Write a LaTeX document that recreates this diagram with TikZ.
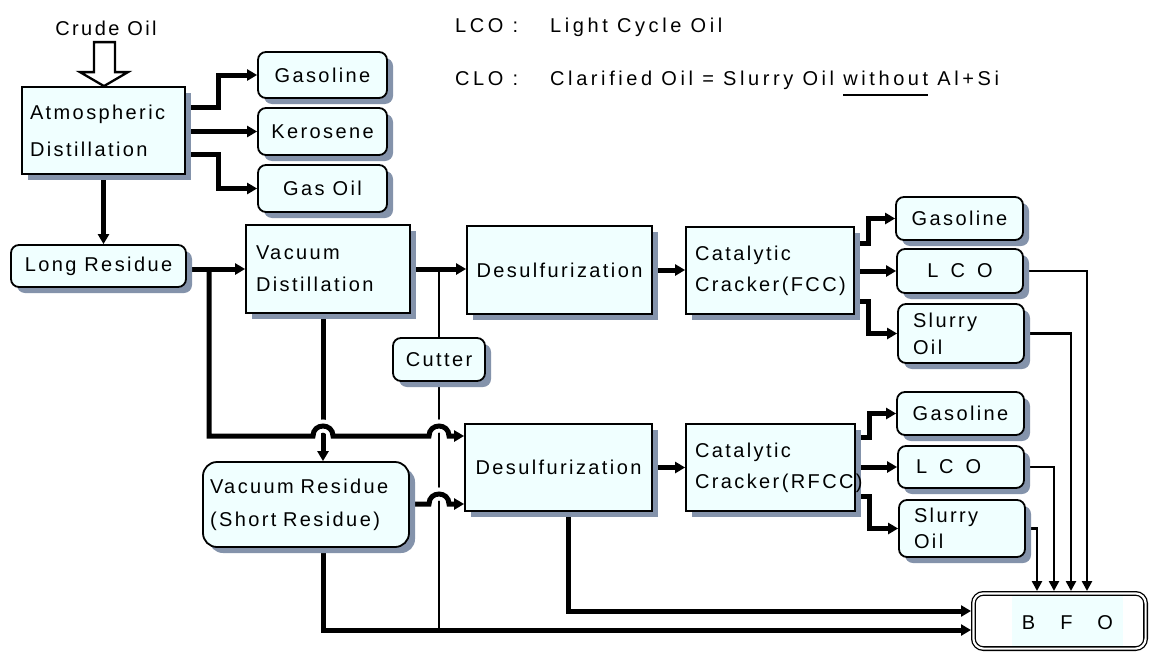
\documentclass[tikz,border=0pt]{standalone}
\usepackage{fontspec}
\setmainfont{Liberation Sans}[LetterSpace=12]
\usetikzlibrary{arrows.meta,shadows,calc,backgrounds}
\definecolor{boxfill}{RGB}{240,255,255}
\definecolor{shadowc}{RGB}{132,147,171}
\pgfdeclarelayer{bottom}
\pgfsetlayers{bottom,background,main}
\newcommand\myul[1]{\vtop{\hbox{#1}\kern9pt\hrule height 1.7pt}}
\hyphenpenalty=10000
\exhyphenpenalty=10000
\begin{document}
\begin{tikzpicture}[x=1pt,y=-1pt,
  base/.style={draw=black, line width=1.8pt, fill=boxfill, inner sep=0pt,
    font=\fontsize{20}{24}\selectfont,
    drop shadow={shadow xshift=6pt, shadow yshift=-6pt, fill=shadowc, opacity=1}},
  sqbox/.style={base, rectangle},
  rbox/.style={base, rectangle, rounded corners=8pt},
  txt/.style={inner sep=0pt, font=\fontsize{20}{24}\selectfont},
  legend/.style={inner sep=0pt, anchor=base west, font=\fontsize{20}{24}\selectfont\addfontfeature{LetterSpace=18}},
  thick/.style={line width=5pt, -{Triangle[length=10pt,width=11pt]}},
  thickline/.style={line width=5pt},
  thin/.style={line width=2.8pt, -{Triangle[length=10pt,width=10pt]}},
  thinline/.style={line width=2.8pt},
  halo/.style={preaction={draw=white, line width=13pt, -}}
]
\begin{pgfonlayer}{bottom}
\fill[white] (0,0) rectangle (1151,653);
\end{pgfonlayer}
\useasboundingbox (0,0) rectangle (1151,653);

% legend
\node[legend] (lcok) at (455,32) {LCO :};
\node[legend] (lcod) at (550,32) {Light Cycle Oil};
\node[legend] (clok) at (455,85) {CLO :};
\node[legend] (clod) at (550,85) {Clarified Oil = Slurry Oil \myul{without} Al+Si};

% nodes
\node[txt, anchor=base] (crude) at (106,35) {Crude Oil};
\node[sqbox, minimum width=163pt, minimum height=87pt, text width=147pt, align=left,
  font=\fontsize{20}{37}\selectfont] (atm) at (103.5,130.5) {Atmospheric\\Distillation};
\node[rbox, minimum width=129pt, minimum height=46pt] (gas1) at (322.5,75) {Gasoline};
\node[rbox, minimum width=129pt, minimum height=47pt] (ker) at (322.5,131.5) {Kerosene};
\node[rbox, minimum width=129pt, minimum height=47pt] (gasoil) at (322.5,188.5) {Gas Oil};
\node[rbox, minimum width=175pt, minimum height=42pt] (longres) at (98.5,266) {Long Residue};
\node[sqbox, minimum width=164pt, minimum height=88pt, text width=144pt, align=left,
  font=\fontsize{20}{32}\selectfont] (vacdist) at (328,269) {Vacuum\\Distillation};
\node[sqbox, minimum width=185pt, minimum height=88pt] (desulf1) at (559.5,270) {Desulfurization};
\node[sqbox, minimum width=168pt, minimum height=87pt, text width=150pt, align=left,
  font=\fontsize{20}{31}\selectfont] (cat1) at (770,270.5) {Catalytic\\Cracker(FCC)};
\node[rbox, minimum width=92pt, minimum height=43pt] (cutter) at (439,359.5) {Cutter};
\node[rbox, minimum width=127pt, minimum height=43pt] (gasF) at (959.5,218.5) {Gasoline};
\node[rbox, minimum width=126pt, minimum height=44pt] (lco1) at (960,271) {L\hspace{12pt}C\hspace{12pt}O};
\node[rbox, minimum width=126pt, minimum height=59pt, text width=96pt, align=left,
  font=\fontsize{20}{27}\selectfont] (slurry1) at (961,333.5) {Slurry\\Oil};
\node[sqbox, minimum width=187pt, minimum height=87pt] (desulf2) at (558.5,467.5) {Desulfurization};
\node[sqbox, minimum width=169pt, minimum height=87pt, text width=151pt, align=left,
  font=\fontsize{20}{31}\selectfont] (cat2) at (770.5,467.5) {Catalytic\\Cracker(RFCC)};
\node[rbox, minimum width=127pt, minimum height=43pt] (gasR) at (960.5,413.5) {Gasoline};
\node[rbox, minimum width=126pt, minimum height=42pt, text width=90pt, align=left] (lco2) at (961,467) {L\hspace{12pt}C\hspace{12pt}O};
\node[rbox, minimum width=126pt, minimum height=57pt, text width=96pt, align=left,
  font=\fontsize{20}{26}\selectfont] (slurry2) at (962,528.5) {Slurry\\Oil};
\node[base, rectangle, rounded corners=14pt, minimum width=206pt, minimum height=85pt, text width=192pt, align=left,
  font=\fontsize{20}{33}\selectfont] (vacres) at (306,504.5) {Vacuum Residue\\(Short Residue)};
\node[draw=black, line width=1.3pt, double, double distance=2.2pt, fill=white, rounded corners=10pt,
  minimum width=172.2pt, minimum height=55.2pt, inner sep=0pt, outer sep=2.4pt,
  font=\fontsize{20}{24}\selectfont] (bfo) at (1059.5,621)
  {\hspace*{16pt}\setlength{\fboxsep}{0pt}\colorbox{boxfill}{\rule[-17pt]{0pt}{50pt}\hspace{10pt}B\hspace{25pt}F\hspace{25pt}O\hspace{10pt}}};

% hollow crude-oil arrow
\draw[line width=2.3pt, fill=white, shift={(atm.north)}]
  (-9.5,-44) -- (11.5,-44) -- (11.5,-14) -- (24.5,-14) -- (0.5,0) -- (-23.5,-14) -- (-9.5,-14) -- cycle;

% connectors
\begin{pgfonlayer}{background}
\coordinate (j1) at (209,269);
\coordinate (v1) at ($(vacdist.south)+(-5,0)$);
\coordinate (j2) at (cutter.north |- vacdist.east);
\coordinate (b1) at ($(bfo.west)+(0,-10)$);
\coordinate (b2) at ($(bfo.west)+(0,9)$);
\coordinate (ds) at ($(desulf2.south)+(10,0)$);
\coordinate (vb) at ($(vacres.south)+(17,0)$);
\coordinate (d2a) at ($(desulf2.west)+(0,-31.5)$);
\coordinate (d2b) at ($(desulf2.west)+(0,36.5)$);

\draw[thick] (v1) -- (v1 |- vacres.north);
\draw[thinline] (j2) -- (cutter.north);
\draw[thinline] (cutter.south) -- (cutter.south |- b2);

\draw[thick, halo] (j1) |- (313,436) .. controls (313,422.7) and (333,422.7) .. (333,436)
  -- (429,436) .. controls (429,422.7) and (449,422.7) .. (449,436) -- (d2a);
\draw[thick, halo] (vacres.east |- d2b) -- (429,504) .. controls (429,490.7) and (449,490.7) .. (449,504) -- (d2b);

\draw[thick] (longres.east |- vacdist.west) -- (vacdist.west);
\draw[thick] (vacdist.east) -- (vacdist.east -| desulf1.west);
\draw[thick] (desulf1.east) -- (desulf1.east -| cat1.west);
\draw[thick] (desulf2.east) -- (desulf2.east -| cat2.west);

\draw[thick] ($(atm.east)+(0,-23.5)$) -- ++(33,0) |- (gas1.west);
\draw[thick] (atm.east |- ker.west) -- (ker.west);
\draw[thick] ($(atm.east)+(0,23.5)$) -- ++(33,0) |- (gasoil.west);
\draw[thick] (atm.south) -- (atm.south |- longres.north);

\draw[thick] ($(cat1.east)+(0,-27.5)$) -- ++(14,0) |- (gasF.west);
\draw[thick] (cat1.east |- lco1.west) -- (lco1.west);
\draw[thick] ($(cat1.east)+(0,30.5)$) -- ++(14,0) |- (slurry1.west);
\draw[thick] ($(cat2.east)+(0,-30.5)$) -- ++(14,0) |- (gasR.west);
\draw[thick] (cat2.east |- lco2.west) -- (lco2.west);
\draw[thick] ($(cat2.east)+(0,28.5)$) -- ++(14,0) |- (slurry2.west);

\draw[thin] (lco1.east) -| ($(bfo.north)+(27.5,0)$);
\draw[thin] (slurry1.east) -| ($(bfo.north)+(11.5,0)$);
\draw[thin] (lco2.east) -| ($(bfo.north)+(-5.5,0)$);
\draw[thin] (slurry2.east) -| ($(bfo.north)+(-22.5,0)$);

\draw[thick] (ds) |- (b1);
\draw[thick] (vb) |- (b2);
\end{pgfonlayer}
\end{tikzpicture}
\end{document}
